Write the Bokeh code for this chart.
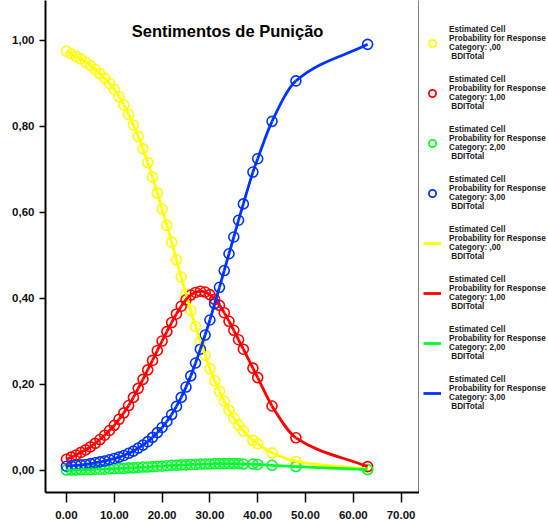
from bokeh.plotting import figure
from bokeh.layouts import row
from bokeh.models import (Legend, LegendItem, LinearAxis, FixedTicker, Label,
                          Range1d, ColumnDataSource)
from bokeh.embed import file_html
from bokeh.resources import INLINE

# ---------------- data ----------------
bdi_total = [0, 1, 2, 3, 4, 5, 6, 7, 8, 9, 10, 11, 12, 13, 14, 15, 16, 17, 18, 19,
             20, 21, 22, 23, 24, 25, 26, 27, 28, 29, 30, 31, 32, 33, 34, 35, 36, 37,
             39, 40, 43, 48, 63]

prob_cat0 = [0.975, 0.969, 0.963, 0.957, 0.950, 0.942, 0.933, 0.923, 0.912, 0.900,
             0.886, 0.869, 0.850, 0.828, 0.803, 0.777, 0.748, 0.716, 0.682, 0.645,
             0.608, 0.570, 0.531, 0.490, 0.450, 0.410, 0.372, 0.335, 0.300, 0.268,
             0.237, 0.209, 0.184, 0.161, 0.140, 0.122, 0.106, 0.092,
             0.070, 0.062, 0.041, 0.021, 0.003]

prob_cat1 = [0.026, 0.031, 0.036, 0.042, 0.048, 0.055, 0.063, 0.072, 0.082, 0.093,
             0.105, 0.119, 0.134, 0.151, 0.170, 0.191, 0.212, 0.234, 0.256, 0.279,
             0.301, 0.323, 0.344, 0.364, 0.382, 0.397, 0.408, 0.414, 0.417, 0.415,
             0.409, 0.398, 0.384, 0.367, 0.347, 0.326, 0.304, 0.282,
             0.238, 0.216, 0.150, 0.076, 0.009]

prob_cat2 = [0.001, 0.001, 0.001, 0.002, 0.002, 0.002, 0.003, 0.003, 0.003, 0.004,
             0.004, 0.005, 0.005, 0.006, 0.006, 0.007, 0.008, 0.008, 0.009, 0.010,
             0.010, 0.011, 0.012, 0.012, 0.013, 0.013, 0.014, 0.014, 0.015, 0.015,
             0.015, 0.016, 0.016, 0.016, 0.016, 0.016, 0.016, 0.015,
             0.015, 0.014, 0.012, 0.009, 0.002]

prob_cat3 = [0.010, 0.011, 0.012, 0.013, 0.014, 0.016, 0.018, 0.020, 0.022, 0.025,
             0.028, 0.031, 0.035, 0.040, 0.045, 0.052, 0.059, 0.067, 0.077, 0.088,
             0.100, 0.114, 0.130, 0.149, 0.170, 0.194, 0.220, 0.250, 0.282, 0.315,
             0.350, 0.388, 0.426, 0.465, 0.504, 0.543, 0.582, 0.620,
             0.694, 0.725, 0.812, 0.906, 0.991]

categories = [",00", "1,00", "2,00", "3,00"]
series = [prob_cat0, prob_cat1, prob_cat2, prob_cat3]
colors = ["#FFFF00", "#FF0000", "#00FF2B", "#0033FF"]

x_ticks = [0, 10, 20, 30, 40, 50, 60, 70]
x_tick_labels = ["0.00", "10.00", "20.00", "30.00", "40.00", "50.00", "60.00", "70.00"]
y_ticks = [0.0, 0.2, 0.4, 0.6, 0.8, 1.0]
y_tick_labels = ["0,00", "0,20", "0,40", "0,60", "0,80", "1,00"]

title_text = "Sentimentos de Punição"

legend_labels = ["Estimated Cell\nProbability for Response\nCategory: %s\n BDITotal" % c
                 for c in categories]

FONT = "Liberation Sans"
CIRCLE_STYLE = dict(marker="circle", size=10, fill_color=None, line_width=1.6)
LEGEND_CIRCLE_STYLE = dict(marker="circle", size=13, fill_color=None, line_width=1.8)
LINE_WIDTH = 2.8


def smooth_segments(xs, ys):
    """Monotone cubic (Fritsch-Carlson) drawn as bezier segments through the data."""
    n = len(xs)
    h = [xs[i + 1] - xs[i] for i in range(n - 1)]
    d = [(ys[i + 1] - ys[i]) / h[i] for i in range(n - 1)]
    m = [0.0] * n
    m[0] = d[0]
    m[-1] = d[-1]
    for i in range(1, n - 1):
        if d[i - 1] * d[i] <= 0:
            m[i] = 0.0
        else:
            w1 = 2 * h[i] + h[i - 1]
            w2 = h[i] + 2 * h[i - 1]
            m[i] = (w1 + w2) / (w1 / d[i - 1] + w2 / d[i])
    seg = dict(x0=[], y0=[], x1=[], y1=[], cx0=[], cy0=[], cx1=[], cy1=[])
    for i in range(n - 1):
        seg["x0"].append(xs[i]); seg["y0"].append(ys[i])
        seg["x1"].append(xs[i + 1]); seg["y1"].append(ys[i + 1])
        seg["cx0"].append(xs[i] + h[i] / 3); seg["cy0"].append(ys[i] + m[i] * h[i] / 3)
        seg["cx1"].append(xs[i + 1] - h[i] / 3); seg["cy1"].append(ys[i + 1] - m[i + 1] * h[i] / 3)
    return seg


sources = [ColumnDataSource(dict(x=bdi_total, y=ys)) for ys in series]

# ---------------- main chart ----------------
p = figure(width=419, height=522, output_backend="svg", toolbar_location=None,
           x_range=Range1d(-4.39, 73.85), y_range=Range1d(-0.0512, 1.093),
           min_border_left=45, min_border_right=0, min_border_top=0,
           min_border_bottom=30)
p.grid.visible = False
p.outline_line_color = None
p.background_fill_color = "white"
p.border_fill_color = "white"

for ax in (p.xaxis[0], p.yaxis[0]):
    ax.axis_line_width = 2
    ax.axis_line_color = "black"
    ax.major_tick_line_width = 1.5
    ax.major_tick_line_color = "black"
    ax.major_tick_in = 0
    ax.minor_tick_in = 0
    ax.minor_tick_out = 0
    ax.major_label_text_font = FONT
    ax.major_label_text_font_style = "bold"
    ax.major_label_text_font_size = "11.5px"
    ax.major_label_text_color = "#111111"

p.xaxis.ticker = FixedTicker(ticks=x_ticks)
p.xaxis.major_label_overrides = dict(zip(x_ticks, x_tick_labels))
p.xaxis.major_tick_out = 10
p.xaxis.major_label_standoff = 8

p.yaxis.ticker = FixedTicker(ticks=y_ticks)
p.yaxis.major_label_overrides = dict(zip(y_ticks, y_tick_labels))
p.yaxis.major_tick_out = 6
p.yaxis.major_label_standoff = 5

right_axis = LinearAxis(ticker=FixedTicker(ticks=[]), axis_line_width=2,
                        axis_line_color="black", major_tick_out=0, major_tick_in=0,
                        minor_tick_out=0, minor_tick_in=0, major_label_standoff=0,
                        major_label_text_font_size="0px")
p.add_layout(right_axis, "right")

for src, col in zip(sources, colors):
    p.scatter("x", "y", source=src, line_color=col, **CIRCLE_STYLE)
for ys, col in zip(series, colors):
    seg_src = ColumnDataSource(smooth_segments(bdi_total, ys))
    p.bezier(x0="x0", y0="y0", x1="x1", y1="y1", cx0="cx0", cy0="cy0",
             cx1="cx1", cy1="cy1", source=seg_src, line_color=col,
             line_width=LINE_WIDTH)

title = Label(x=33.7, y=1.021, text=title_text, text_align="center",
              text_baseline="middle", text_font=FONT, text_font_style="bold",
              text_font_size="16.5px", text_color="black")
p.add_layout(title)

# ---------------- legend panel (its renderers share the data, kept out of view) ----
lp = figure(width=129, height=522, output_backend="svg", toolbar_location=None,
            x_range=Range1d(1000, 1001), y_range=Range1d(1000, 1001),
            x_axis_location=None, y_axis_location=None,
            min_border=0, min_border_left=0, min_border_right=0,
            min_border_top=0, min_border_bottom=0)
lp.grid.visible = False
lp.outline_line_color = None
lp.background_fill_color = "white"
lp.border_fill_color = "white"

items = []
for lbl, src, col in zip(legend_labels, sources, colors):
    r = lp.scatter("x", "y", source=src, line_color=col, **LEGEND_CIRCLE_STYLE)
    items.append(LegendItem(label=lbl, renderers=[r]))
for lbl, src, col in zip(legend_labels, sources, colors):
    r = lp.line("x", "y", source=src, line_color=col, line_width=LINE_WIDTH)
    items.append(LegendItem(label=lbl, renderers=[r]))

legend = Legend(items=items, location=(4, 81), padding=0, margin=0, spacing=14,
                glyph_width=18, glyph_height=20, label_standoff=8,
                label_text_font=FONT, label_text_font_style="bold",
                label_text_font_size="8.2px",
                label_text_color="#1a1a1a",
                background_fill_alpha=0, border_line_color=None)
lp.add_layout(legend)

layout = row(p, lp, spacing=0)

open("out.html", "w").write(file_html(layout, INLINE))
